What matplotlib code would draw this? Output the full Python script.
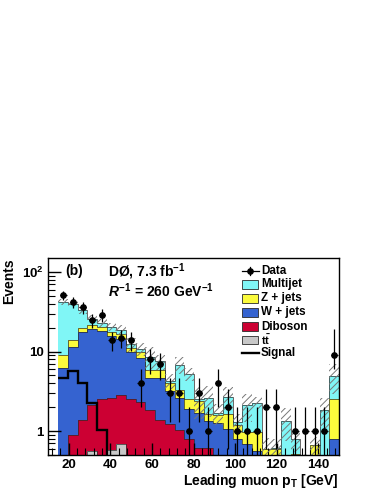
import numpy as np
import matplotlib
matplotlib.use('Agg')
import matplotlib.pyplot as plt
from matplotlib.patches import Rectangle
from matplotlib.lines import Line2D
from matplotlib.ticker import FixedLocator, MultipleLocator, NullFormatter, LogLocator, FixedFormatter

plt.rcParams['font.family'] = ['Liberation Sans', 'DejaVu Sans']
plt.rcParams['font.weight'] = 'bold'
plt.rcParams['axes.labelweight'] = 'bold'
plt.rcParams['mathtext.fontset'] = 'custom'
plt.rcParams['mathtext.rm'] = 'Liberation Sans:bold'
plt.rcParams['mathtext.bf'] = 'Liberation Sans:bold'
plt.rcParams['mathtext.it'] = 'Liberation Sans:italic:bold'
plt.rcParams['mathtext.default'] = 'bf'
plt.rcParams['hatch.linewidth'] = 0.7

# ---------------- data ----------------
bin_edges = np.linspace(15, 150, 30)

data_counts = [51, 42, 36, 25, 29, 14, 15, 14, 4, 8, 7, 3, 3, 1, 3, 1, 4, 2, 1, 1,
               1, 2, 2, 0, 1, 1, 1, 1, 9]
data_err_low = [7.1, 6.5, 6.0, 5.0, 5.4, 3.7, 3.9, 3.7, 2.0, 2.8, 2.6, 1.7, 1.7, 1.0,
                1.7, 1.0, 2.0, 1.4, 1.0, 1.0, 1.0, 1.4, 1.4, 0.0, 1.0, 1.0, 1.0, 1.0, 3.0]
data_err_high = [7.1, 6.5, 6.0, 5.0, 5.4, 3.7, 3.9, 3.7, 2.0, 2.8, 2.6, 1.7, 1.7, 1.0,
                 1.7, 1.0, 2.0, 1.4, 1.0, 1.0, 1.0, 1.4, 1.4, 0.0, 1.0, 1.0, 1.0, 1.0, 10.0]

ttbar = [0.30, 0.30, 0.35, 0.56, 0.50, 0.57, 0.68, 0.45, 0.40, 0.35, 0.30, 0.30, 0.25, 0.20,
         0.20, 0.15, 0.15, 0.10, 0.10, 0.10, 0.10, 0.05, 0.05, 0.05, 0.05, 0.05, 0.05, 0.05, 0.10]
diboson = [0.05, 0.58, 1.01, 1.54, 2.03, 2.03, 2.12, 2.08, 1.89, 1.47, 1.09, 0.93, 0.78, 0.60,
           0.42, 0.47, 0.30, 0.25, 0.20, 0.15, 0.12, 0.15, 0.13, 0.10, 0.07, 0.05, 0.05, 0.05, 0.10]
wjets = [5.85, 10.42, 16.14, 16.90, 15.77, 12.90, 11.40, 7.47, 6.01, 2.88, 3.31, 1.97, 1.57, 1.07,
         1.08, 0.73, 0.80, 0.70, 0.50, 0.43, 0.34, 0.20, 0.17, 0.15, 0.18, 0.15, 0.10, 0.10, 0.59]
zjets = [2.90, 2.70, 2.20, 2.50, 2.20, 2.00, 2.40, 1.00, 1.70, 1.20, 1.20, 0.80, 0.73, 0.63,
         0.70, 0.30, 0.35, 0.60, 0.40, 0.28, 0.40, 0.20, 0.25, 0.20, 0.22, 0.10, 0.46, 0.25, 1.71]
multijet = [32.9, 26.0, 13.3, 4.5, 2.5, 3.0, 2.2, 1.5, 0.8, 2.6, 1.6, 0.3, 3.52, 2.7,
            0.1, 0.97, 0.1, 1.05, 0.1, 1.14, 1.31, 0.0, 0.02, 0.85, 0.28, 0.05, 0.0, 1.4, 2.4]
bkg_unc = [3.5, 3.5, 3.5, 3.0, 2.5, 2.5, 2.5, 2.5, 2.0, 2.8, 1.6, 0.9, 1.6, 1.0,
           1.1, 1.1, 0.5, 0.9, 0.35, 0.8, 0.4, 0.22, 0.18, 0.6, 0.25, 0.12, 0.18, 0.75, 2.0]
signal = [4.6, 5.75, 4.0, 2.25, 1.04, 0.30, 0.20, 0.15, 0.10, 0.08, 0.06, 0.05, 0.04, 0.03,
          0.03, 0.02, 0.02, 0.02, 0.02, 0.02, 0.02, 0.02, 0.02, 0.02, 0.02, 0.02, 0.02, 0.02, 0.02]

xtick_values = [20, 40, 60, 80, 100, 120, 140]
ytick_values = [1, 10, 100]
ytick_labels = ['1', '10', '10$^{2}$']

legend_labels = ['Data', 'Multijet', 'Z + jets', 'W + jets', 'Diboson', r'$t\bar{t}$', 'Signal']
colors = {'Multijet': '#80f6f6', 'Z + jets': '#fbfb3c', 'W + jets': '#3563d0',
          'Diboson': '#cc0033', 'ttbar': '#c8c8c8'}

# ---------------- figure ----------------
W, H = 382, 494
fig = plt.figure(figsize=(W / 100, H / 100), dpi=100)
ax = fig.add_axes([48 / W, 39 / H, 291 / W, 197 / H])
ax.set_yscale('log')
ax.set_xlim(10, 150)
ax.set_ylim(0.5, 150)

centers = 0.5 * (bin_edges[:-1] + bin_edges[1:])
widths = np.diff(bin_edges)

stack = np.cumsum(np.array([ttbar, diboson, wjets, zjets, multijet]), axis=0)
fill_cols = [colors['ttbar'], colors['Diboson'], colors['W + jets'], colors['Z + jets'], colors['Multijet']]
for level in range(4, -1, -1):
    ax.stairs(stack[level], bin_edges, baseline=0.01, fill=True,
              facecolor=fill_cols[level], edgecolor='none', zorder=1 + (4 - level) * 0.1)
    ax.stairs(stack[level], bin_edges, baseline=None, color='#2a2a2a', lw=0.5,
              zorder=1.05 + (4 - level) * 0.1)

total = stack[4]
unc = np.array(bkg_unc)
ax.bar(centers, 2 * unc, bottom=total - unc, width=widths, align='center',
       fill=False, hatch='/////', edgecolor='#777777', linewidth=0, zorder=2)

ax.stairs(signal, bin_edges, baseline=None, color='black', lw=1.7, zorder=3)

dc = np.array(data_counts, dtype=float)
mask = dc > 0
ax.errorbar(centers[mask], dc[mask],
            yerr=[np.array(data_err_low)[mask], np.array(data_err_high)[mask]],
            xerr=0.35 * widths[mask], fmt='o', ms=3.8, color='black',
            elinewidth=0.9, capsize=0, zorder=4)

# axes styling
ax.xaxis.set_major_locator(FixedLocator(xtick_values))
ax.xaxis.set_minor_locator(MultipleLocator(4))
ax.yaxis.set_major_locator(FixedLocator(ytick_values))
ax.yaxis.set_major_formatter(FixedFormatter(ytick_labels))
ax.yaxis.set_minor_locator(LogLocator(base=10, subs=np.arange(2, 10)))
ax.yaxis.set_minor_formatter(NullFormatter())
ax.tick_params(which='both', direction='in', top=False, right=False, labelsize=9.5)
ax.tick_params(which='major', length=9, width=1)
ax.tick_params(which='minor', length=5, width=0.8)
ax.tick_params(axis='x', pad=3)
ax.tick_params(axis='y', pad=3)
for s in ax.spines.values():
    s.set_linewidth(1.0)

ax.set_xlabel(r'Leading muon p$_{T}$ [GeV]', fontsize=10, loc='right')
ax.xaxis.set_label_coords(1.0, -0.085)
ax.set_ylabel('Events', fontsize=10, loc='top')
ax.yaxis.set_label_coords(-0.11, 1.0)

ax.text(0.058, 0.934, '(b)', transform=ax.transAxes, fontsize=10, va='center', ha='left')
ax.text(0.206, 0.932, 'DØ, 7.3 fb$^{-1}$', transform=ax.transAxes, fontsize=10, va='center', ha='left')
ax.text(0.206, 0.835, r'$\mathit{R}^{-1}$ = 260 GeV$^{-1}$', transform=ax.transAxes,
        fontsize=10, va='center', ha='left')

# legend (manual)
def fp(x, y):
    return (x / W, 1 - y / H)

rows = [270.7, 284.2, 298.3, 312.5, 326.5, 340.0, 353.0]
xl0, xl1 = 242.0, 258.5
for lab, yrow in zip(legend_labels, rows):
    if lab == 'Data':
        fig.add_artist(Line2D([xl0 / W, xl1 / W], [fp(0, yrow)[1]] * 2, color='black', lw=0.9))
        xc = 0.5 * (xl0 + xl1)
        fig.add_artist(Line2D([xc / W] * 2, [fp(0, yrow - 4)[1], fp(0, yrow + 4)[1]], color='black', lw=0.9))
        fig.add_artist(Line2D([xc / W], [fp(0, yrow)[1]], marker='o', ms=3.8, color='black'))
    elif lab == 'Signal':
        fig.add_artist(Line2D([xl0 / W, xl1 / W], [fp(0, yrow)[1]] * 2, color='black', lw=1.7))
    else:
        key = 'ttbar' if 'bar' in lab else lab
        fig.add_artist(Rectangle(fp(xl0, yrow + 4.3), (xl1 - xl0) / W, 8.6 / H,
                                 facecolor=colors[key], edgecolor='#2a2a2a', lw=0.6,
                                 transform=fig.transFigure))
    fs = 8.0 if 'bar' in lab else 8.4
    fig.text(261 / W, fp(0, yrow)[1], lab, fontsize=fs, va='center', ha='left')

fig.savefig('out.png', dpi=100)
